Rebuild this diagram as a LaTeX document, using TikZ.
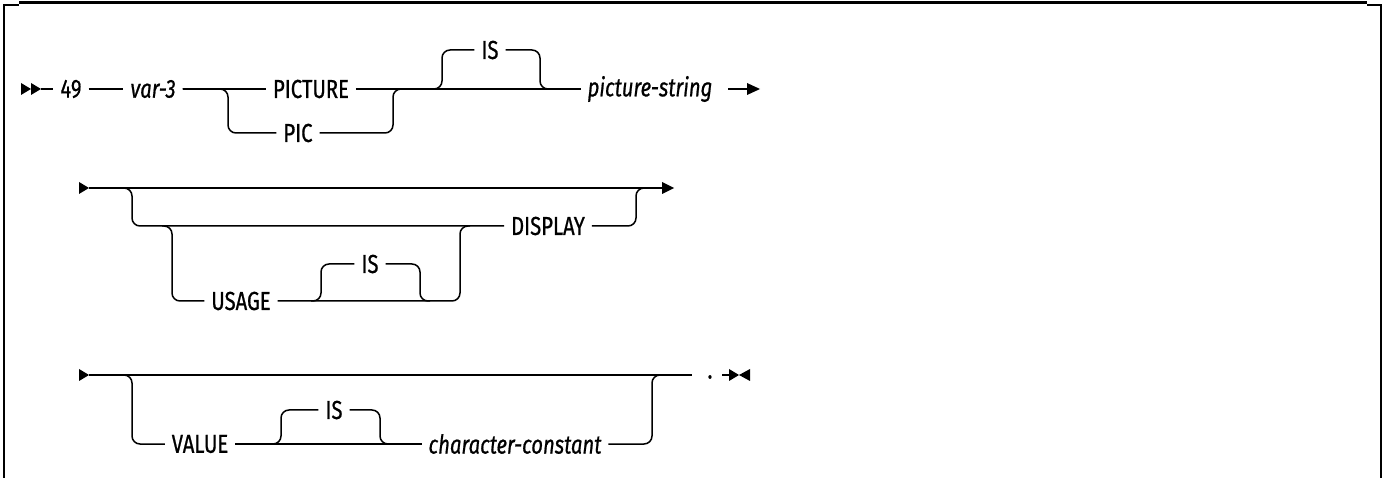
\documentclass[tikz,border=0pt]{standalone}
\usepackage{fontspec}
\setmainfont{Fira Sans}
\newfontfamily\kwfont{Fira Sans}[FakeStretch=0.78,FakeBold=0.7]
\begin{document}
\begin{tikzpicture}[x=1pt,y=-1pt,
  ln/.style={line width=1.5pt},
  rc/.style={ln,rounded corners=8pt},
  kw/.style={inner sep=0pt,outer sep=7pt,font=\kwfont\fontsize{26}{30}\selectfont,anchor=center},
  var/.style={kw,font=\kwfont\fontsize{26}{30}\selectfont\itshape},
  tri/.style={fill=black,draw=none},
  frame/.style={line width=2pt}]
\useasboundingbox (0,0) rectangle (1385,478);
% frame
\draw[line width=3.2pt] (19,2.5) -- (1367,2.5);
\draw[frame] (4,478) -- (4,5.5) -- (19,5.5);
\draw[frame] (1367,5.5) -- (1381,5.5) -- (1381,478);
% ---------- row 1
\fill[tri] (21,83) -- (31,89) -- (21,95) -- cycle;
\fill[tri] (31,83) -- (41,89) -- (31,95) -- cycle;
\coordinate (s1) at (41,89);
\node[kw] (n49) at (71,89) {49};
\node[var] (var3) at (153,89) {var-3};
\node[kw] (pict) at (311,89) {PICTURE};
\node[kw] (pic) at (298,133) {PIC};
\node[kw] (is1) at (490,50) {IS};
\node[var] (pstr) at (650,89) {picture-string};
\coordinate (a1) at (728,89);
\coordinate (e1) at (760,89);
\draw[ln] (s1) -- (n49.west);
\draw[ln] (n49.east) -- (var3.west);
\draw[ln] (var3.east) -- (pict.west);
\draw[ln] (pict.east) -- (pstr.west);
\draw[rc] (var3.east) -| (228,133) -- (pic.west);
\draw[rc] (pic.east) -| (393,89) -- (403,89);
\draw[rc] (432,89) -| (442,50) -- (is1.west);
\draw[rc] (is1.east) -| (540,89) -- (550,89);
\draw[ln] (a1) -- (747,89);
\fill[tri] (747,83) -- (e1) -- (747,95) -- cycle;
% ---------- row 2
\fill[tri] (79,182) -- (89,188) -- (79,194) -- cycle;
\coordinate (s2) at (89,188);
\coordinate (e2) at (674,188);
\draw[ln] (s2) -- (662,188);
\fill[tri] (662,182) -- (e2) -- (662,194) -- cycle;
\node[kw] (disp) at (548,226) {DISPLAY};
\node[kw] (usage) at (241,301) {USAGE};
\node[kw] (is2) at (370,264) {IS};
\draw[rc] (s2) -| (132,226) -- (disp.west);
\draw[rc] (disp.east) -| (636,188) -- (646,188);
\draw[rc] (162,226) -| (172,301) -- (usage.west);
\draw[rc] (usage.east) -| (460,226) -- (470,226);
\draw[rc] (311,301) -| (321,264) -- (is2.west);
\draw[rc] (is2.east) -| (420,301) -- (430,301);
% ---------- row 3
\fill[tri] (79,369) -- (89,375) -- (79,381) -- cycle;
\coordinate (s3) at (89,375);
\node[kw] (dot) at (710,377) {.};
\node[kw] (value) at (200,444) {VALUE};
\node[kw] (is3) at (334,410) {IS};
\node[var] (cc) at (515,444) {character-constant};
\draw[ln] (s3) -- (692,375);
\draw[rc] (s3) -| (132,444) -- (value.west);
\draw[ln] (value.east) -- (cc.west);
\draw[rc] (cc.east) -| (652,375) -- (662,375);
\draw[rc] (271,444) -| (281,410) -- (is3.west);
\draw[rc] (is3.east) -| (380,444) -- (390,444);
\coordinate (a3) at (722,375);
\coordinate (e3) at (739,375);
\draw[ln] (a3) -- (730,375);
\fill[tri] (729,369) -- (e3) -- (729,381) -- cycle;
\fill[tri] (750,369) -- (e3) -- (750,381) -- cycle;
\end{tikzpicture}
\end{document}
